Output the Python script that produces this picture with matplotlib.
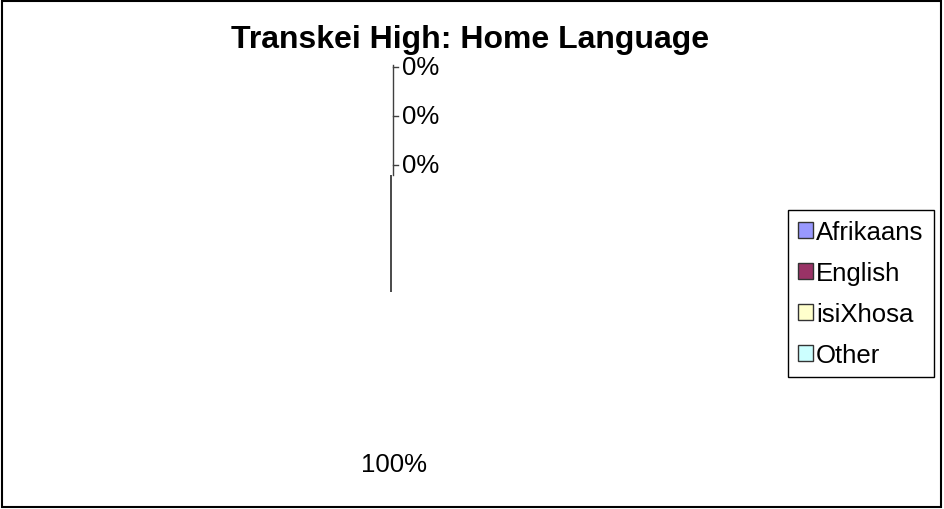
import matplotlib.pyplot as plt
from matplotlib.patches import Patch, Rectangle

# Данные
languages = ['Afrikaans', 'English', 'isiXhosa', 'Other']
shares = [0, 0, 100, 0]
colors = ['#9999FF', '#993366', '#FFFFCC', '#CCFFFF']

plt.rcParams['font.family'] = ['Liberation Sans', 'DejaVu Sans']

W, H = 944, 510
fig = plt.figure(figsize=(W / 100, H / 100), dpi=100)

# оси на всю фигуру, 1 единица = радиус пирога (117 px)
R = 117.0
cx, cy = 391, 293
ax = fig.add_axes([0, 0, 1, 1])
wedges, texts, autotexts = ax.pie(
    shares, colors=colors, startangle=90, counterclock=False,
    autopct='%1.0f%%', pctdistance=1.47,
    wedgeprops=dict(linewidth=0),
    textprops=dict(fontsize=18.5, color='black'))
ax.set_aspect('auto')
ax.set_xlim(-cx / R, (W - cx) / R)
ax.set_ylim(-(H - cy) / R, cy / R)
ax.axis('off')

# нулевые сектора видны только как линия радиуса, сам пирог белый
for w, v in zip(wedges, shares):
    if v == 0:
        w.set_edgecolor('black')
        w.set_linewidth(1.0)
    else:
        w.set_facecolor('white')

# 100% чуть правее центра, как в оригинале
for t, v in zip(autotexts, shares):
    if v != 0:
        px, py = t.get_position()
        t.set_position((px + 0.025, py))

# подписи 0% стопкой над пирогом с выносными линиями
zero_labels = [t for t, v in zip(autotexts, shares) if v == 0]
lx = 0.017
ys = [1.085, 1.504, 1.923]
for t, y in zip(zero_labels, ys):
    t.set_position((0.095, y))
    t.set_ha('left')
    t.set_va('center')
    ax.plot([lx, 0.06], [y, y], color='#404040', lw=1)
ax.plot([lx, lx], [1.0, 1.94], color='#404040', lw=1)

# заголовок
fig.text(470 / W, 1 - 40 / H, 'Transkei High: Home Language',
         ha='center', va='center', fontsize=23, fontweight='bold')

# легенда
handles = [Patch(facecolor=c, edgecolor='#333333', linewidth=1) for c in colors]
leg = fig.legend(handles, languages, loc='upper left',
                 bbox_to_anchor=(788 / W, 1 - 211 / H),
                 fontsize=18.5, frameon=True, fancybox=False,
                 edgecolor='black', framealpha=1,
                 handlelength=0.56, handleheight=0.6, handletextpad=0.13,
                 labelspacing=0.66, borderpad=0.4, borderaxespad=0)
leg.get_frame().set_linewidth(1.0)

# рамка вокруг диаграммы
fig.patches.append(Rectangle((0.002, 0.003), 0.995, 0.994, transform=fig.transFigure,
                             fill=False, edgecolor='black', linewidth=1.5))

plt.savefig('out.png', dpi=100)
plt.close()
